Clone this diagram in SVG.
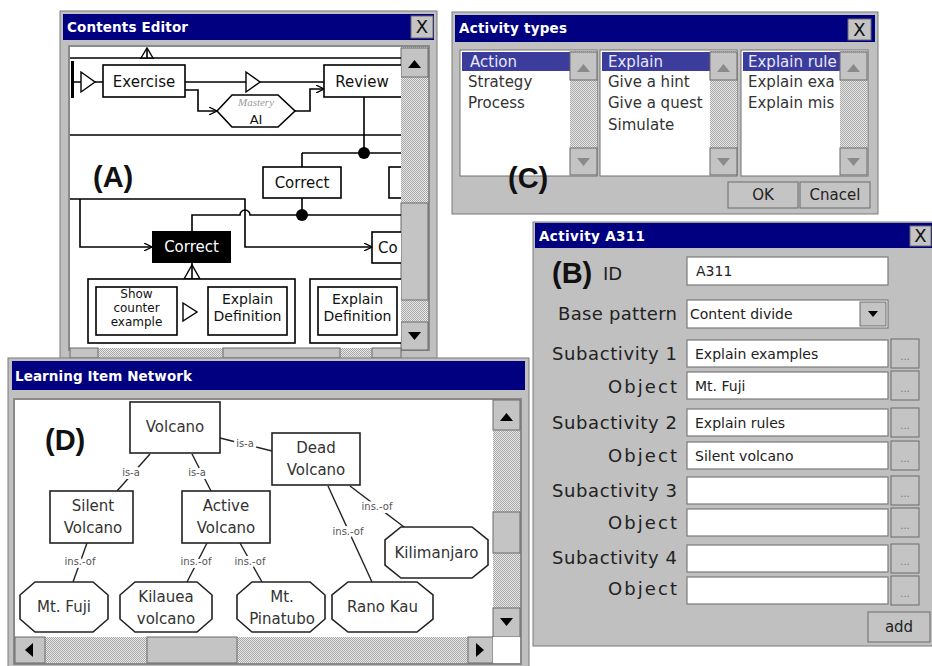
<svg xmlns="http://www.w3.org/2000/svg" width="932" height="666" viewBox="0 0 932 666">
<defs>
<pattern id="dot" width="2" height="2" patternUnits="userSpaceOnUse">
<rect width="2" height="2" fill="#e8e8e8"/>
<rect width="1" height="1" fill="#a8a8a8"/>
<rect x="1" y="1" width="1" height="1" fill="#a8a8a8"/>
</pattern>
<marker id="ah" viewBox="0 0 8 8" refX="8" refY="4" markerWidth="8" markerHeight="8" markerUnits="userSpaceOnUse" orient="auto">
<path d="M0,0 L8,4 L0,8" fill="none" stroke="#000" stroke-width="1.3"/>
</marker>
<clipPath id="ceclip"><rect x="70" y="47" width="331" height="301"/></clipPath>
</defs>
<style>
.win{fill:#c0c0c0;stroke:#7a7a7a;stroke-width:1}
.tb{fill:#000080}
.tt{font-family:"DejaVu Sans",sans-serif;font-weight:bold;font-size:13.5px;fill:#fff}
.btn{fill:#c4c4c4;stroke:#6a6a6a;stroke-width:1}
.x{font-family:"DejaVu Sans",sans-serif;font-size:18px;fill:#111;text-anchor:middle}
.trk{fill:url(#dot)}
.arr{fill:#000}
.arrg{fill:#8a8a8a}
.ln{fill:none;stroke:#000;stroke-width:1.6}
.box{fill:#fff;stroke:#000;stroke-width:1.6}
.tri{fill:#fff;stroke:#000;stroke-width:1.4}
.ct{font-family:"DejaVu Sans",sans-serif;font-size:15px;fill:#111;text-anchor:middle}
.ct2{font-family:"DejaVu Sans",sans-serif;font-size:14px;fill:#111;text-anchor:middle}
.ct3{font-family:"DejaVu Sans",sans-serif;font-size:12px;fill:#111;text-anchor:middle}
.big{font-family:"Liberation Sans",Arial,sans-serif;font-weight:bold;font-size:29px;fill:#111}
.li{font-family:"DejaVu Sans",sans-serif;font-size:15px;fill:#333}
.sel{fill:#3c3c9c}
.selt{font-family:"DejaVu Sans",sans-serif;font-size:15px;fill:#e8e8ff}
.fld{fill:#fff;stroke:#7a7a7a;stroke-width:1.2}
.lab{font-family:"DejaVu Sans",sans-serif;font-size:18px;fill:#222;text-anchor:end}
.ft{font-family:"DejaVu Sans",sans-serif;font-size:14px;fill:#222}
.bt{font-family:"DejaVu Sans",sans-serif;font-size:15px;fill:#222;text-anchor:middle}
.dd{font-family:"DejaVu Sans",sans-serif;font-size:10px;fill:#777;text-anchor:middle}
.nb{fill:#fff;stroke:#222;stroke-width:1.6}
.nt{font-family:"DejaVu Sans",sans-serif;font-size:15px;fill:#333;text-anchor:middle}
.el{font-family:"DejaVu Sans",sans-serif;font-size:10px;fill:#555;text-anchor:middle;stroke:#fff;stroke-width:6;paint-order:stroke;stroke-linejoin:round}
.eln{fill:none;stroke:#222;stroke-width:1.4}
</style>

<!-- ===== Contents Editor (A) ===== -->
<g id="contents-editor-window">
<rect class="win" x="60" y="11" width="377" height="348"/>
<rect class="tb" x="63" y="14" width="371" height="26"/>
<text class="tt" x="67" y="32" textLength="121">Contents Editor</text>
<rect class="btn" x="411" y="16" width="22" height="22"/>
<text class="x" x="422" y="33">X</text>
<rect x="68" y="45" width="362" height="306" fill="#8a8a8a"/>
<rect x="70" y="47" width="331" height="301" fill="#fff"/>
<rect class="trk" x="401" y="47" width="27" height="303"/>
<rect class="btn" x="401" y="48" width="27" height="29"/>
<polygon class="arr" points="408,68 421,68 414.5,60"/>
<rect class="btn" x="401" y="203" width="27" height="97"/>
<rect class="btn" x="401" y="322" width="27" height="28"/>
<polygon class="arr" points="408,332 421,332 414.5,340"/>
<rect class="trk" x="70" y="348" width="331" height="10"/>
<rect class="btn" x="70" y="348" width="28" height="10"/>
<rect class="btn" x="223" y="348" width="117" height="10"/>
<rect class="btn" x="372" y="348" width="29" height="10"/>
</g>

<g id="ce-diagram" clip-path="url(#ceclip)">
<g id="ce-connectors">
<path class="ln" d="M70,58 H401"/>
<path class="ln" d="M72,82 H81 M95,82 H103"/>
<path class="ln" d="M185,82 H246 M260,82 H324"/>
<path class="ln" d="M185,90 H198 V111 H217" marker-end="url(#ah)"/>
<path class="ln" d="M295,111 H310 V89 H324" marker-end="url(#ah)"/>
<path class="ln" d="M70,135 H401"/>
<path class="ln" d="M364,97 V153 M302,153 H401 M302,153 V167"/>
<path class="ln" d="M70,199 H245 V247 H372" marker-end="url(#ah)"/>
<path class="ln" d="M80,199 V247 H152" marker-end="url(#ah)"/>
<path class="ln" d="M302,198 V215"/>
<path class="ln" d="M192,231 V215 H240 A5,5 0 0 1 250,215 H401"/>
<path class="ln" d="M192,263 V279"/>
<path class="ln" d="M177,312 H183 M197,312 H208 M397,312 H401"/>
<circle cx="364" cy="153" r="6" fill="#000"/>
<circle cx="302" cy="215" r="6" fill="#000"/>
</g>
<g id="ce-top-join">
<polygon class="tri" points="141,58 147,48 153,58"/>
<path class="ln" d="M147,48 V58"/>
</g>
<rect x="71" y="61" width="3" height="37" fill="#000"/>
<polygon class="tri" points="81,72 95,82 81,92"/>
<polygon class="tri" points="246,72 260,82 246,92"/>
<g id="ce-exercise">
<rect class="box" x="103" y="65" width="82" height="32"/>
<text class="ct" x="144" y="87">Exercise</text>
</g>
<g id="ce-review">
<rect class="box" x="324" y="65" width="90" height="32"/>
<text class="ct" x="362" y="87">Review</text>
</g>
<g id="ce-mastery">
<polygon class="box" points="217,111 232,95 278,95 295,111 278,127 232,127"/>
<text x="256" y="106" font-family="Liberation Serif,serif" font-style="italic" font-size="11" fill="#9a9a9a" text-anchor="middle">Mastery</text>
<text class="ct" x="256" y="124" style="font-size:13px">AI</text>
</g>
<g id="ce-correct-1">
<rect class="box" x="263" y="167" width="78" height="31"/>
<text class="ct" x="302" y="188">Correct</text>
</g>
<g id="ce-box-right">
<rect class="box" x="389" y="167" width="30" height="31"/>
</g>
<g id="ce-correct-selected">
<rect x="152" y="231" width="79" height="32" fill="#000"/>
<text class="ct" x="191.5" y="252" style="fill:#fff">Correct</text>
</g>
<g id="ce-co">
<rect class="box" x="372" y="232" width="45" height="31"/>
<text class="ct" x="378" y="253" style="text-anchor:start">Co</text>
</g>
<g id="ce-bottom-join">
<polygon class="tri" points="184,279 192,265 200,279"/>
<path class="ln" d="M192,265 V279"/>
</g>
<g id="ce-group-1">
<rect class="box" x="88" y="279" width="207" height="64" stroke-width="2"/>
</g>
<g id="ce-show-counter">
<rect class="box" x="96" y="287" width="81" height="48"/>
<text class="ct3" x="136.5" y="298">Show</text>
<text class="ct3" x="136.5" y="312">counter</text>
<text class="ct3" x="136.5" y="326">example</text>
</g>
<polygon class="tri" points="183,303 197,312 183,321"/>
<g id="ce-explain-def-1">
<rect class="box" x="208" y="287" width="79" height="48"/>
<text class="ct2" x="247.5" y="304">Explain</text>
<text class="ct2" x="247.5" y="321">Definition</text>
</g>
<g id="ce-group-2">
<rect class="box" x="310" y="279" width="110" height="64" stroke-width="2"/>
</g>
<g id="ce-explain-def-2">
<rect class="box" x="318" y="287" width="79" height="48"/>
<text class="ct2" x="357.5" y="304">Explain</text>
<text class="ct2" x="357.5" y="321">Definition</text>
</g>
<text class="big" x="93" y="187">(A)</text>
</g>

<!-- ===== Activity types (C) ===== -->
<g id="activity-types-window">
<rect class="win" x="452" y="12" width="426" height="202"/>
<rect class="tb" x="455" y="15" width="420" height="27"/>
<text class="tt" x="459" y="33" textLength="108">Activity types</text>
<rect class="btn" x="848" y="19" width="23" height="21"/>
<text class="x" x="859.5" y="36">X</text>

<g id="list-category">
<rect x="460" y="50" width="137" height="126" fill="#fff" stroke="#707070"/>
<rect class="sel" x="462" y="52" width="108" height="19"/>
<text class="selt" x="470" y="67">Action</text>
<text class="li" x="468" y="87">Strategy</text>
<text class="li" x="468" y="108">Process</text>
<rect class="trk" x="570" y="51" width="27" height="124"/>
<rect class="btn" x="570" y="52" width="27" height="28"/>
<polygon class="arrg" points="577,72 590,72 583.5,64"/>
<rect class="btn" x="570" y="148" width="27" height="27"/>
<polygon class="arrg" points="577,158 590,158 583.5,166"/>
</g>
<g id="list-type">
<rect x="600" y="50" width="137" height="126" fill="#fff" stroke="#707070"/>
<rect class="sel" x="602" y="52" width="108" height="19"/>
<text class="selt" x="608" y="67">Explain</text>
<text class="li" x="608" y="87">Give a hint</text>
<text class="li" x="608" y="108">Give a quest</text>
<text class="li" x="608" y="130">Simulate</text>
<rect class="trk" x="710" y="51" width="27" height="124"/>
<rect class="btn" x="710" y="52" width="27" height="28"/>
<polygon class="arrg" points="717,72 730,72 723.5,64"/>
<rect class="btn" x="710" y="148" width="27" height="27"/>
<polygon class="arrg" points="717,158 730,158 723.5,166"/>
</g>
<g id="list-detail">
<rect x="741" y="50" width="127" height="126" fill="#fff" stroke="#707070"/>
<rect class="sel" x="743" y="52" width="97" height="19"/>
<text class="selt" x="748" y="67">Explain rule</text>
<text class="li" x="748" y="87">Explain exa</text>
<text class="li" x="748" y="108">Explain mis</text>
<rect class="trk" x="840" y="51" width="27" height="124"/>
<rect class="btn" x="840" y="52" width="27" height="28"/>
<polygon class="arrg" points="847,72 860,72 853.5,64"/>
<rect class="btn" x="840" y="148" width="27" height="27"/>
<polygon class="arrg" points="847,158 860,158 853.5,166"/>
</g>
<text class="big" x="508" y="188">(C)</text>
<g id="btn-ok">
<rect class="btn" x="728" y="182" width="70" height="26"/>
<text class="bt" x="763" y="200">OK</text>
</g>
<g id="btn-cancel">
<rect class="btn" x="800" y="182" width="70" height="26"/>
<text class="bt" x="835" y="200">Cnacel</text>
</g>
</g>

<!-- ===== Activity A311 (B) ===== -->
<g id="activity-a311-window">
<rect class="win" x="533" y="222" width="400" height="424"/>
<rect class="tb" x="535" y="223" width="397" height="25"/>
<text class="tt" x="539" y="241" textLength="106">Activity A311</text>
<rect class="btn" x="910" y="226" width="21" height="20"/>
<text class="x" x="920.5" y="242">X</text>
<text class="big" x="552" y="283">(B)</text>
<text class="lab" x="603" y="280" style="text-anchor:start">ID</text>
<rect class="fld" x="687" y="257" width="201" height="28"/>
<text class="ft" x="696" y="276">A311</text>

<text class="lab" x="677" y="320" textLength="119">Base pattern</text>
<rect class="fld" x="687" y="300" width="201" height="28"/>
<text class="ft" x="690" y="319">Content divide</text>
<rect class="btn" x="860" y="302" width="26" height="24"/>
<polygon class="arr" points="868,311 878,311 873,317"/>

<text class="lab" x="677" y="360" textLength="125">Subactivity 1</text>
<rect class="fld" x="687" y="340" width="201" height="27"/>
<text class="ft" x="695" y="359">Explain examples</text>
<rect class="btn" x="891" y="339" width="28" height="29"/>
<text class="dd" x="905" y="360">...</text>

<text class="lab" x="677" y="393" textLength="69">Object</text>
<rect class="fld" x="687" y="372" width="201" height="27"/>
<text class="ft" x="695" y="391">Mt. Fuji</text>
<rect class="btn" x="891" y="371" width="28" height="29"/>
<text class="dd" x="905" y="392">...</text>

<text class="lab" x="677" y="429" textLength="125">Subactivity 2</text>
<rect class="fld" x="687" y="409" width="201" height="27"/>
<text class="ft" x="695" y="428">Explain rules</text>
<rect class="btn" x="891" y="408" width="28" height="29"/>
<text class="dd" x="905" y="429">...</text>

<text class="lab" x="677" y="462" textLength="69">Object</text>
<rect class="fld" x="687" y="442" width="201" height="27"/>
<text class="ft" x="695" y="461">Silent volcano</text>
<rect class="btn" x="891" y="441" width="28" height="29"/>
<text class="dd" x="905" y="462">...</text>

<text class="lab" x="677" y="497" textLength="125">Subactivity 3</text>
<rect class="fld" x="687" y="477" width="201" height="27"/>
<rect class="btn" x="891" y="476" width="28" height="29"/>
<text class="dd" x="905" y="497">...</text>

<text class="lab" x="677" y="529" textLength="69">Object</text>
<rect class="fld" x="687" y="509" width="201" height="27"/>
<rect class="btn" x="891" y="508" width="28" height="29"/>
<text class="dd" x="905" y="529">...</text>

<text class="lab" x="677" y="564" textLength="125">Subactivity 4</text>
<rect class="fld" x="687" y="545" width="201" height="27"/>
<rect class="btn" x="891" y="544" width="28" height="29"/>
<text class="dd" x="905" y="565">...</text>

<text class="lab" x="677" y="595" textLength="69">Object</text>
<rect class="fld" x="687" y="577" width="201" height="27"/>
<rect class="btn" x="891" y="576" width="28" height="29"/>
<text class="dd" x="905" y="597">...</text>

<g id="btn-add">
<rect class="btn" x="868" y="612" width="62" height="30"/>
<text class="bt" x="899" y="632">add</text>
</g>
</g>

<!-- ===== Learning Item Network (D) ===== -->
<g id="learning-item-network-window">
<rect class="win" x="8" y="358" width="521" height="310"/>
<rect class="tb" x="12" y="361" width="513" height="29"/>
<text class="tt" x="15" y="381" textLength="177">Learning Item Network</text>
<rect x="13" y="398" width="509" height="267" fill="#8a8a8a"/>
<rect x="15" y="400" width="478" height="237" fill="#fff"/>
<rect class="trk" x="493" y="400" width="27" height="237"/>
<rect class="btn" x="493" y="400" width="27" height="30"/>
<polygon class="arr" points="500,421 513,421 506.5,413"/>
<rect class="btn" x="493" y="512" width="27" height="41"/>
<rect class="btn" x="493" y="608" width="27" height="29"/>
<polygon class="arr" points="500,618 513,618 506.5,626"/>
<rect class="trk" x="15" y="637" width="478" height="26"/>
<rect class="btn" x="15" y="637" width="30" height="26"/>
<polygon class="arr" points="33,643 33,657 25,650"/>
<rect class="btn" x="147" y="637" width="90" height="26"/>
<rect class="btn" x="468" y="637" width="25" height="26"/>
<polygon class="arr" points="476,643 476,657 484,650"/>
<rect x="493" y="637" width="27" height="26" fill="#fff"/>
</g>

<g id="lin-connectors">
<line class="eln" x1="150" y1="454" x2="117" y2="491"/>
<text class="el" x="131" y="476">is-a</text>
<line class="eln" x1="192" y1="454" x2="211" y2="491"/>
<text class="el" x="197" y="476">is-a</text>
<line class="eln" x1="220" y1="438" x2="272" y2="451"/>
<text class="el" x="245" y="447">is-a</text>
<line class="eln" x1="87" y1="543" x2="73" y2="582"/>
<text class="el" x="80" y="565">ins.-of</text>
<line class="eln" x1="207" y1="543" x2="187" y2="582"/>
<text class="el" x="196" y="565">ins.-of</text>
<line class="eln" x1="240" y1="543" x2="262" y2="582"/>
<text class="el" x="250" y="565">ins.-of</text>
<line class="eln" x1="350" y1="486" x2="408" y2="530"/>
<text class="el" x="377" y="510">ins.-of</text>
<line class="eln" x1="328" y1="486" x2="372" y2="582"/>
<text class="el" x="348" y="535">ins.-of</text>
</g>

<g id="node-volcano">
<rect class="nb" x="130" y="402" width="90" height="51"/>
<text class="nt" x="175" y="432">Volcano</text>
</g>
<g id="node-dead-volcano">
<rect class="nb" x="272" y="433" width="88" height="52"/>
<text class="nt" x="316" y="453">Dead</text>
<text class="nt" x="316" y="475">Volcano</text>
</g>
<g id="node-silent-volcano">
<rect class="nb" x="50" y="491" width="83" height="52"/>
<text class="nt" x="93" y="511">Silent</text>
<text class="nt" x="93" y="533">Volcano</text>
</g>
<g id="node-active-volcano">
<rect class="nb" x="182" y="491" width="88" height="52"/>
<text class="nt" x="226" y="511">Active</text>
<text class="nt" x="226" y="533">Volcano</text>
</g>
<g id="node-mt-fuji">
<polygon class="nb" points="35,582 93,582 108,595 108,619 93,632 35,632 20,619 20,595"/>
<text class="nt" x="64" y="612">Mt. Fuji</text>
</g>
<g id="node-kilauea">
<polygon class="nb" points="135,582 197,582 212,595 212,619 197,632 135,632 120,619 120,595"/>
<text class="nt" x="166" y="602">Kilauea</text>
<text class="nt" x="166" y="624">volcano</text>
</g>
<g id="node-pinatubo">
<polygon class="nb" points="252,582 310,582 325,595 325,619 310,632 252,632 237,619 237,595"/>
<text class="nt" x="282" y="602">Mt.</text>
<text class="nt" x="282" y="624">Pinatubo</text>
</g>
<g id="node-rano-kau">
<polygon class="nb" points="348,582 417,582 433,595 433,619 417,632 348,632 332,619 332,595"/>
<text class="nt" x="382.5" y="612">Rano Kau</text>
</g>
<g id="node-kilimanjaro">
<polygon class="nb" points="401,527 472,527 488,540 488,565 472,578 401,578 385,565 385,540"/>
<text class="nt" x="436.5" y="558">Kilimanjaro</text>
</g>
<text class="big" x="45" y="450">(D)</text>
</svg>
